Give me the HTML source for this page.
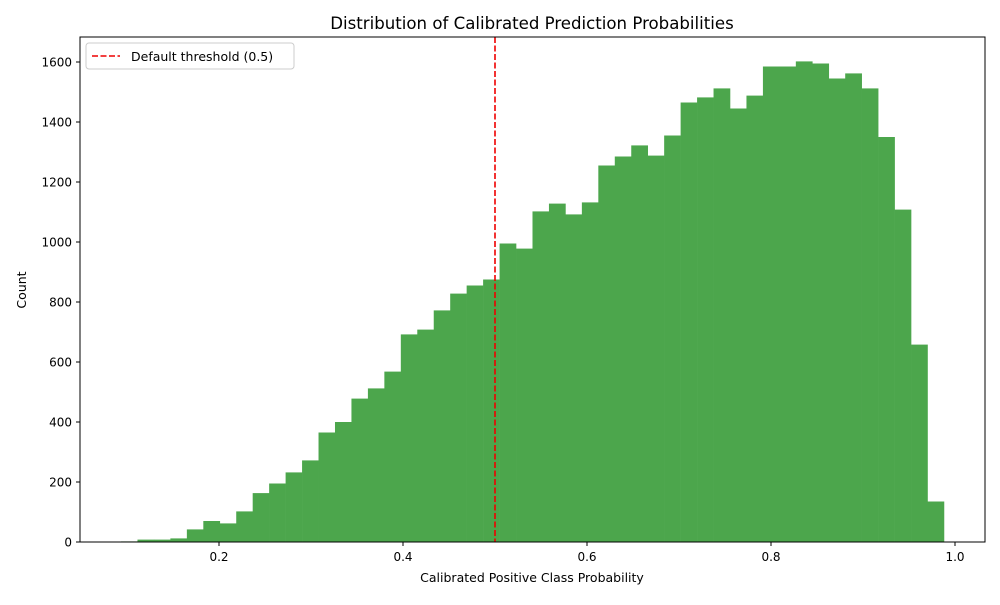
<!DOCTYPE html>
<html><head><meta charset="utf-8"><style>
body{margin:0;background:#fff;font-family:"Liberation Sans","DejaVu Sans",sans-serif;}
svg text{font-family:"DejaVu Sans","Liberation Sans",sans-serif;}
</style></head><body>
<svg id="chart" width="1000" height="600" xmlns="http://www.w3.org/2000/svg">
<rect width="1000" height="600" fill="#fff"/>
<text x="532" y="29" text-anchor="middle" font-size="16.6">Distribution of Calibrated Prediction Probabilities</text>
<g id="bars"></g>
<g id="xt"></g>
<g id="yt"></g>
<line id="thr" y1="37" y2="542" stroke="#e00" stroke-width="1.6" stroke-dasharray="6,2.5"/>
<rect x="80" y="37" width="905" height="505" fill="none" stroke="#000" stroke-width="1"/>
<text x="532" y="582" text-anchor="middle" font-size="12.5">Calibrated Positive Class Probability</text>
<text transform="translate(26,290) rotate(-90)" text-anchor="middle" font-size="12.5">Count</text>
<g>
<rect x="86" y="43" width="208" height="26" fill="#fff" stroke="#ccc" rx="3"/>
<line x1="92" y1="56" x2="120" y2="56" stroke="#e00" stroke-width="1.6" stroke-dasharray="6,2.5"/>
<text x="131" y="61" font-size="12.5">Default threshold (0.5)</text>
</g>
</svg>
<script>
const binStart = 0.0935;
const binWidth = 0.01789;
const counts = [2,8,8,12,42,70,62,102,163,195,232,272,365,400,478,512,568,692,708,772,828,855,875,995,978,1102,1128,1092,1132,1255,1285,1322,1288,1355,1465,1482,1512,1445,1488,1585,1585,1602,1595,1545,1562,1512,1350,1108,658,135];
const xTicks = [0.2,0.4,0.6,0.8,1.0];
const xTickLabels = ["0.2","0.4","0.6","0.8","1.0"];
const yTicks = [0,200,400,600,800,1000,1200,1400,1600];
const threshold = 0.5;
const NS="http://www.w3.org/2000/svg";
const xs = v => 35 + v*920;
const ys = v => 542 - v*0.3;
function mk(t,a,p){const e=document.createElementNS(NS,t);for(const k in a)e.setAttribute(k,a[k]);p.appendChild(e);return e;}
const bars=document.getElementById('bars');
counts.forEach((c,i)=>{
  const x0=xs(binStart+i*binWidth), x1=xs(binStart+(i+1)*binWidth);
  const r=mk('rect',{x:x0,y:ys(c),width:x1-x0+0.3,height:542-ys(c),fill:'#4ca64c'},bars);
  
  
});
const xt=document.getElementById('xt');
xTicks.forEach((v,i)=>{
  const l=mk('line',{x1:xs(v),x2:xs(v),y1:542,y2:546,stroke:'#000'},xt);
  
  
  const t=mk('text',{x:xs(v),y:561,'text-anchor':'middle','font-size':12},xt);
  t.textContent=xTickLabels[i];
  
  
});
const yt=document.getElementById('yt');
yTicks.forEach(v=>{
  const l=mk('line',{x1:76,x2:80,y1:ys(v),y2:ys(v),stroke:'#000'},yt);
  
  
  const t=mk('text',{x:72,y:ys(v)+4.5,'text-anchor':'end','font-size':12},yt);
  t.textContent=String(v);
  
  
});
const th=document.getElementById('thr');
th.setAttribute('x1',xs(threshold));th.setAttribute('x2',xs(threshold));
</script>
</body></html>
